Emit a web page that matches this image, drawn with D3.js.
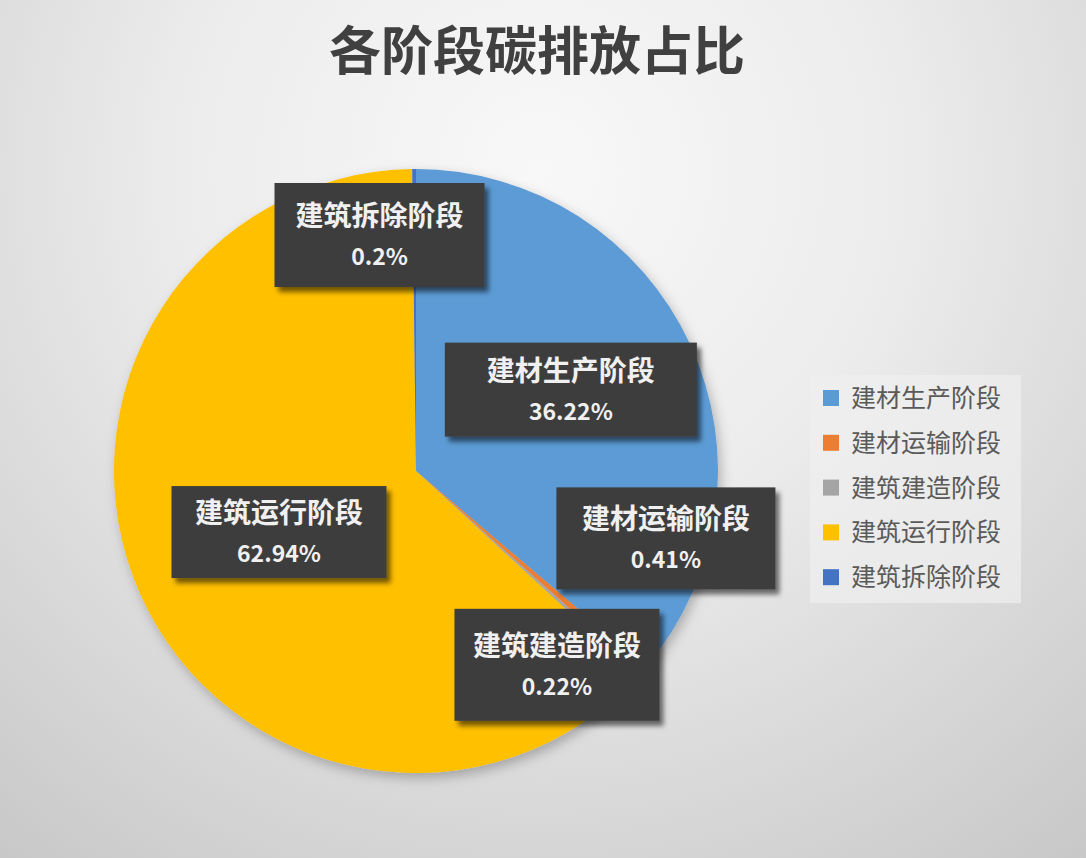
<!DOCTYPE html>
<html>
<head>
<meta charset="utf-8">
<script src="https://cdn.jsdelivr.net/npm/d3@7/dist/d3.min.js"></script>
<style>
  html, body { margin: 0; padding: 0; background: #ddd; }
  svg { display: block; font-family: "Noto Sans CJK SC", "Noto Sans", sans-serif; }
</style>
</head>
<body>
<div id="chart"></div>
<script>
// data
var chartTitle = "各阶段碳排放占比";
var stages = ["建材生产阶段", "建材运输阶段", "建筑建造阶段", "建筑运行阶段", "建筑拆除阶段"];
var shares = [36.22, 0.41, 0.22, 62.94, 0.2];
var shareLabels = ["36.22%", "0.41%", "0.22%", "62.94%", "0.2%"];
var colors = ["#5B9BD5", "#ED7D31", "#A5A5A5", "#FFC000", "#4472C4"];

// label placement (radius along slice centroid, then a manual nudge, like the dragged Excel labels)
var labelRadius = [175, 300, 300, 150, 236];
var labelNudge = [[-4, -8], [24, -130], [-81, -8], [0, 0], [-35, 0]];
// label box sizes (the boxes were resized by hand in the original)
var boxW = [252, 219, 205, 215, 210];
var boxH = [94, 102, 112, 92, 104];

var W = 1086, H = 858;
var cx = 416, cy = 471, r = 302;

var svg = d3.select("#chart").append("svg")
    .attr("width", W)
    .attr("height", H);

var defs = svg.append("defs");

var bg = defs.append("radialGradient")
    .attr("id", "bg")
    .attr("gradientUnits", "userSpaceOnUse")
    .attr("cx", 540).attr("cy", 170).attr("r", 900);
bg.append("stop").attr("offset", "0%").attr("stop-color", "#f8f8f8");
bg.append("stop").attr("offset", "40%").attr("stop-color", "#ececec");
bg.append("stop").attr("offset", "100%").attr("stop-color", "#c6c6c6");

var pieShadow = defs.append("filter").attr("id", "pieShadow")
    .attr("x", "-10%").attr("y", "-10%").attr("width", "125%").attr("height", "125%");
pieShadow.append("feDropShadow")
    .attr("dx", 3).attr("dy", 5).attr("stdDeviation", 6)
    .attr("flood-color", "#000").attr("flood-opacity", 0.25);

var boxShadow = defs.append("filter").attr("id", "boxShadow")
    .attr("x", "-10%").attr("y", "-10%").attr("width", "125%").attr("height", "130%");
boxShadow.append("feDropShadow")
    .attr("dx", 4).attr("dy", 5).attr("stdDeviation", 2.5)
    .attr("flood-color", "#000").attr("flood-opacity", 0.55);

svg.append("rect")
    .attr("width", W).attr("height", H)
    .attr("fill", "url(#bg)");

// title
svg.append("text")
    .attr("x", 537)
    .attr("y", 70)
    .attr("text-anchor", "middle")
    .style("font-size", "52px")
    .style("font-weight", 700)
    .style("fill", "#404040")
    .text(chartTitle);

// pie
var data = stages.map(function(s, i) {
    return {name: s, value: shares[i], label: shareLabels[i], color: colors[i], i: i};
});

var pie = d3.pie()
    .sort(null)
    .value(function(d) { return d.value; });

var arc = d3.arc().innerRadius(0).outerRadius(r);

var arcs = pie(data);

var g = svg.append("g")
    .attr("transform", "translate(" + cx + "," + cy + ")");

g.append("g")
    .attr("filter", "url(#pieShadow)")
    .selectAll("path")
    .data(arcs)
    .enter().append("path")
    .attr("d", arc)
    .attr("fill", function(d) { return d.data.color; });

// data labels
var labels = g.selectAll("g.lbl")
    .data(arcs)
    .enter().append("g")
    .attr("class", "lbl")
    .attr("transform", function(d) {
        var i = d.data.i;
        var c = d3.arc().innerRadius(labelRadius[i]).outerRadius(labelRadius[i]).centroid(d);
        return "translate(" + (c[0] + labelNudge[i][0]) + "," + (c[1] + labelNudge[i][1]) + ")";
    });

labels.append("rect")
    .attr("fill", "#3d3d3d")
    .attr("filter", "url(#boxShadow)")
    .attr("x", function(d) { return -boxW[d.data.i] / 2; })
    .attr("y", function(d) { return -boxH[d.data.i] / 2; })
    .attr("width", function(d) { return boxW[d.data.i]; })
    .attr("height", function(d) { return boxH[d.data.i]; });

labels.append("text")
    .attr("text-anchor", "middle")
    .attr("y", -9)
    .style("font-size", "28px")
    .style("font-weight", 700)
    .style("fill", "#f0f0f0")
    .text(function(d) { return d.data.name; });

labels.append("text")
    .attr("text-anchor", "middle")
    .attr("y", 30)
    .style("font-size", "23px")
    .style("font-weight", 700)
    .style("fill", "#f0f0f0")
    .text(function(d) { return d.data.label; });

// legend
var legend = svg.append("g")
    .attr("transform", "translate(810,375)");

legend.append("rect")
    .attr("width", 211).attr("height", 228)
    .attr("fill", "#efefef")
    .attr("opacity", 0.7);

var rowH = 44.8;
var items = legend.selectAll("g.item")
    .data(data)
    .enter().append("g")
    .attr("class", "item")
    .attr("transform", function(d, i) { return "translate(0," + (23 + i * rowH) + ")"; });

items.append("rect")
    .attr("x", 13).attr("y", -8)
    .attr("width", 16).attr("height", 16)
    .attr("fill", function(d) { return d.color; });

items.append("text")
    .attr("x", 41)
    .attr("y", 9)
    .style("font-size", "25px")
    .style("fill", "#5a5a5a")
    .text(function(d) { return d.name; });
</script>
</body>
</html>
